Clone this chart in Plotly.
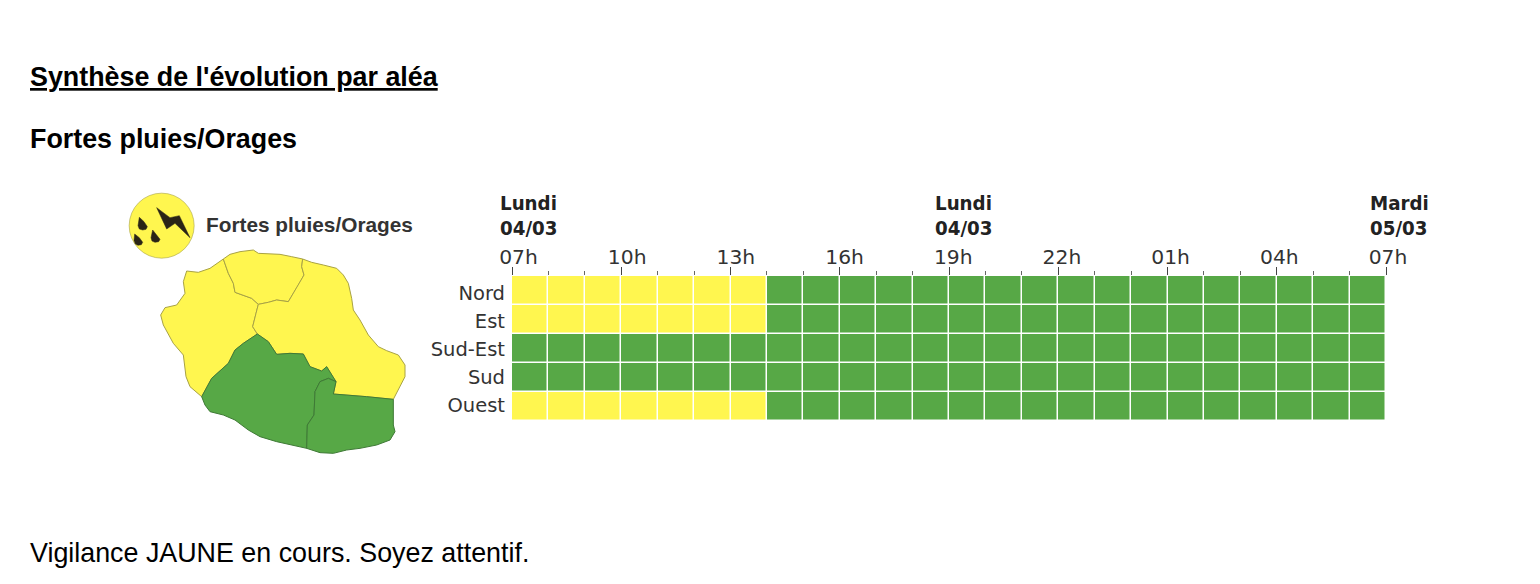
import plotly.graph_objects as go

W, H = 1540, 584

# ---------- data ----------
zones = ["Nord", "Est", "Sud-Est", "Sud", "Ouest"]
hour_cells = [0.5, 1.5, 2.5, 3.5, 4.5, 5.5, 6.5, 7.5, 8.5, 9.5, 10.5, 11.5,
              12.5, 13.5, 14.5, 15.5, 16.5, 17.5, 18.5, 19.5, 20.5, 21.5, 22.5, 23.5]
nord =    [1, 1, 1, 1, 1, 1, 1, 0, 0, 0, 0, 0, 0, 0, 0, 0, 0, 0, 0, 0, 0, 0, 0, 0]
est =     [1, 1, 1, 1, 1, 1, 1, 0, 0, 0, 0, 0, 0, 0, 0, 0, 0, 0, 0, 0, 0, 0, 0, 0]
sud_est = [0, 0, 0, 0, 0, 0, 0, 0, 0, 0, 0, 0, 0, 0, 0, 0, 0, 0, 0, 0, 0, 0, 0, 0]
sud =     [0, 0, 0, 0, 0, 0, 0, 0, 0, 0, 0, 0, 0, 0, 0, 0, 0, 0, 0, 0, 0, 0, 0, 0]
ouest =   [1, 1, 1, 1, 1, 1, 1, 0, 0, 0, 0, 0, 0, 0, 0, 0, 0, 0, 0, 0, 0, 0, 0, 0]

tick_hours = [0, 3, 6, 9, 12, 15, 18, 21, 24]
tick_labels = ["07h", "10h", "13h", "16h", "19h", "22h", "01h", "04h", "07h"]
day_hours = [0, 12, 24]
day_names = ["Lundi", "Lundi", "Mardi"]
day_dates = ["04/03", "04/03", "05/03"]

title_main = "Synthèse de l'évolution par aléa"
title_sub = "Fortes pluies/Orages"
footer = "Vigilance JAUNE en cours. Soyez attentif."

# map regions (outline coordinates in the map's own units)
reg_ouest_x = [200, 235, 270, 310, 325, 340, 345, 395, 415, 408, 398, 412, 370, 345, 325, 275, 245, 210, 198, 190, 160, 130, 122, 135, 170, 195, 190, 200]
reg_ouest_y = [258, 262, 250, 222, 265, 295, 322, 340, 358, 385, 425, 447, 475, 495, 535, 580, 635, 605, 575, 510, 475, 420, 390, 368, 360, 325, 290, 258]
reg_nord_x = [310, 330, 360, 400, 415, 445, 480, 515, 548, 545, 552, 535, 520, 505, 470, 445, 415, 395, 345, 340, 325, 310]
reg_nord_y = [222, 208, 200, 195, 205, 207, 208, 215, 222, 245, 270, 300, 325, 350, 345, 352, 358, 340, 322, 295, 265, 222]
reg_est_x = [548, 575, 610, 650, 670, 685, 695, 700, 720, 745, 775, 800, 835, 855, 855, 840, 820, 740, 640, 648, 620, 605, 570, 550, 510, 470, 445, 412, 398, 408, 415, 445, 470, 505, 520, 535, 552, 545, 548]
reg_est_y = [222, 232, 240, 250, 270, 295, 340, 375, 405, 450, 485, 497, 510, 540, 575, 605, 643, 635, 627, 590, 545, 558, 545, 507, 505, 508, 470, 447, 425, 385, 358, 352, 345, 350, 325, 300, 270, 245, 222]
reg_sud_x = [412, 445, 470, 510, 550, 570, 605, 620, 648, 625, 600, 585, 582, 562, 560, 510, 470, 420, 385, 345, 310, 270, 255, 245, 275, 325, 345, 370, 412]
reg_sud_y = [447, 470, 508, 505, 507, 545, 558, 545, 590, 580, 590, 620, 690, 720, 790, 780, 770, 755, 735, 705, 690, 680, 660, 635, 580, 535, 495, 475, 447]
reg_se_x = [648, 640, 740, 820, 820, 825, 810, 770, 720, 680, 640, 600, 560, 562, 582, 585, 600, 625, 648]
reg_se_y = [590, 627, 635, 643, 720, 740, 765, 780, 790, 795, 805, 803, 790, 720, 690, 620, 590, 580, 590]

# icon
icon_center_x = [125]
icon_center_y = [122]
bolt_x = [110, 150, 178, 210, 165, 140, 110]
bolt_y = [68, 98, 92, 158, 115, 132, 68]
drop1_x = [58, 72, 82, 78, 68, 58, 54, 58]
drop1_y = [97, 110, 125, 133, 135, 132, 122, 97]
drop2_x = [98, 110, 120, 116, 105, 96, 93, 98]
drop2_y = [135, 150, 163, 170, 172, 168, 158, 135]
drop3_x = [44, 58, 68, 64, 54, 46, 42, 44]
drop3_y = [147, 158, 172, 179, 181, 177, 166, 147]

# ---------- style ----------
YELLOW = "#FFF64F"
GREEN = "#57A846"
TXT = "#333333"
DJ = "DejaVu Sans"
DJC = "DejaVu Sans Condensed, DejaVu Sans"
LB = "Liberation Sans"


def px_x(p):
    return p / W


def px_y(p):
    return 1 - p / H


fig = go.Figure()

# heatmap
fig.add_trace(go.Heatmap(
    z=[nord, est, sud_est, sud, ouest], x=hour_cells, y=zones,
    zmin=0, zmax=1, colorscale=[[0, GREEN], [1, YELLOW]], showscale=False,
    xgap=1.5, ygap=1.5, hoverinfo="skip", xaxis="x", yaxis="y"))

# carrier of the hour and zone labels
fig.add_trace(go.Scatter(x=tick_hours, y=[zones[0]] * len(tick_hours), mode="markers",
                         marker=dict(opacity=0), hoverinfo="skip", xaxis="x2", yaxis="y2"))

# map
for rx, ry, col, edge in [
    (reg_ouest_x, reg_ouest_y, YELLOW, "#a8a245"),
    (reg_nord_x, reg_nord_y, YELLOW, "#a8a245"),
    (reg_est_x, reg_est_y, YELLOW, "#a8a245"),
    (reg_sud_x, reg_sud_y, GREEN, "#3f7a36"),
    (reg_se_x, reg_se_y, GREEN, "#3f7a36"),
]:
    fig.add_trace(go.Scatter(x=rx, y=ry, mode="lines", fill="toself", fillcolor=col,
                             line=dict(color=edge, width=1), hoverinfo="skip",
                             xaxis="x3", yaxis="y3"))

# icon
fig.add_trace(go.Scatter(x=icon_center_x, y=icon_center_y, mode="markers",
                         marker=dict(size=65, color=YELLOW, line=dict(color="#a8a245", width=0.6)),
                         hoverinfo="skip", xaxis="x3", yaxis="y3"))
for rx, ry in [(bolt_x, bolt_y), (drop1_x, drop1_y), (drop2_x, drop2_y), (drop3_x, drop3_y)]:
    fig.add_trace(go.Scatter(x=rx, y=ry, mode="lines", fill="toself", fillcolor="#2a2416",
                             line=dict(color="#2a2416", width=0.5), hoverinfo="skip",
                             xaxis="x3", yaxis="y3"))

annotations = [
    dict(text=f"<b><u>{title_main}</u></b>", x=px_x(28), y=px_y(77), font=dict(family=LB, size=26.85, color="#000000")),
    dict(text=f"<b>{title_sub}</b>", x=px_x(28), y=px_y(139), font=dict(family=LB, size=26.85, color="#000000")),
    dict(text=footer, x=px_x(28), y=px_y(553), font=dict(family=LB, size=26.85, color="#000000")),
    dict(text=f"<b>{title_sub}</b>", x=px_x(204), y=px_y(224), font=dict(family=LB, size=20.8, color=TXT)),
]
annotations = [dict(a, xref="paper", yref="paper", xanchor="left", yanchor="middle", showarrow=False) for a in annotations]
for h, name, date in zip(day_hours, day_names, day_dates):
    for txt, ypx in [(name, 203), (date, 228)]:
        annotations.append(dict(text=f"<b>{txt}</b>", x=h, xref="x2", xshift=-20.5, y=px_y(ypx), yref="paper",
                                xanchor="left", yanchor="middle", showarrow=False,
                                font=dict(family=DJC, size=20.3, color="#222222")))

fig.update_layout(
    width=W, height=H, margin=dict(l=0, r=0, t=0, b=0, pad=0, autoexpand=False),
    paper_bgcolor="white", plot_bgcolor="rgba(0,0,0,0)", showlegend=False,
    annotations=annotations,
    xaxis=dict(domain=[px_x(512), px_x(1386)], range=[0, 24], side="top", anchor="y",
               tickmode="linear", tick0=0, dtick=3, ticks="outside", ticklen=8, tickwidth=1,
               tickcolor="#444444", showticklabels=False, showgrid=False, zeroline=False,
               showline=False,
               minor=dict(ticks="outside", ticklen=4, tickwidth=1, tickcolor="#666666", dtick=1, tick0=0, showgrid=False)),
    xaxis2=dict(domain=[px_x(518.5), px_x(1388)], range=[0, 24], side="top", anchor="y",
                tickmode="array", tickvals=tick_hours, ticktext=tick_labels, ticks="", ticklen=0,
                ticklabelstandoff=7, tickfont=dict(family=DJ, size=20.3, color=TXT),
                showgrid=False, zeroline=False, showline=False),
    yaxis=dict(domain=[px_y(421), px_y(276)], range=[4.5, -0.5], type="category",
               categoryorder="array", categoryarray=zones, ticks="", showticklabels=False,
               showgrid=False, zeroline=False, showline=False, anchor="x"),
    yaxis2=dict(domain=[px_y(419), px_y(279)], range=[4.5, -0.5], type="category",
                categoryorder="array", categoryarray=zones, ticks="", ticklabelstandoff=6,
                tickfont=dict(family=DJ, size=19.5, color=TXT), showgrid=False, zeroline=False,
                showline=False, anchor="x", side="left"),
    xaxis3=dict(domain=[px_x(120), px_x(420)], range=[0, 900], visible=False, anchor="y3"),
    yaxis3=dict(domain=[px_y(465), px_y(185)], range=[840, 0], visible=False, anchor="x3"),
)

fig.write_html("out.html", config=dict(displayModeBar=False),
               post_script="document.body.style.margin='0';document.body.style.overflow='hidden';")
